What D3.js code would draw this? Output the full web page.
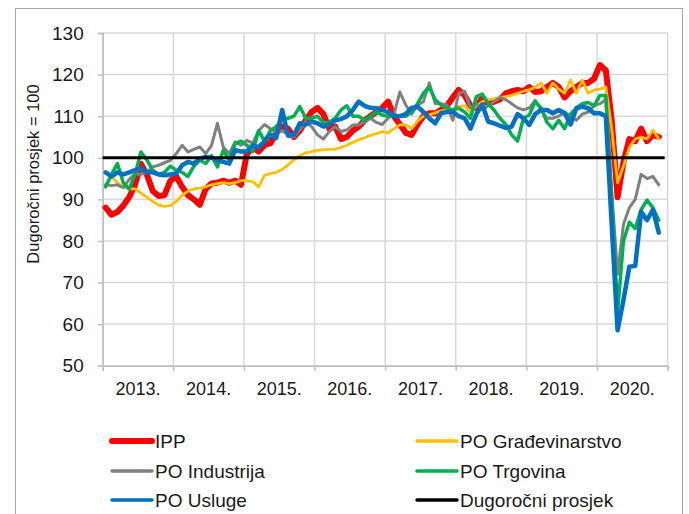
<!DOCTYPE html>
<html><head><meta charset="utf-8">
<script src="https://cdn.jsdelivr.net/npm/d3@7/dist/d3.min.js"></script>
<style>
body{margin:0;background:#fff}
svg{display:block}
text{font-family:"Liberation Sans",Arial,sans-serif;fill:#1a1a1a}
</style>
</head><body>
<svg id="chart" width="689" height="514"></svg>
<script>
// ---- data ----
const years = ["2013.","2014.","2015.","2016.","2017.","2018.","2019.","2020."];
const yTicks = [50,60,70,80,90,100,110,120,130];
const seriesNames = ["IPP","PO Građevinarstvo","PO Industrija","PO Trgovina","PO Usluge","Dugoročni prosjek"];
const longRunAverage = 100;

const ipp = [88,86.3,87,88.5,90.5,93.5,98.5,96,92,90.8,91,94.5,
  95.5,93,91,90,88.7,92.5,93.8,94,94.5,94,94.5,93.5,
  101,102.5,101.5,103,103.5,106,107.5,107,105,106.5,109,111,
  112,110.5,107,107.5,104.5,105,106.5,107.5,109,110,111,112,
  113.5,110,108,106,105.5,108,110,110.7,110.7,111.5,112.5,114.5,
  116.3,115,112.5,112,114.5,113,113.5,114,115.5,116,116.3,116,
  117,115.8,116,117,118,117,114.5,116,117,118,118,119,
  122.3,121,109,90.5,99,104.5,104,107,104,105.5,105];
const gradevinarstvo = [93.5,95.5,94,93,92.5,92.5,91.5,90.5,89.5,88.6,88.3,88.5,
  89.5,91,92,92.5,92.7,93,93.5,93.8,94,93.8,94,94.5,
  94.5,94.2,93,95.8,96.2,96.5,97.2,98.3,99.5,100.5,101.2,101.5,
  101.8,101.9,102,102.1,102.5,103,103.7,104.3,104.8,105.4,105.8,106.3,
  106,107,107.9,107.9,107,108.8,110,110.3,110.8,111.3,111.5,111.7,
  112.3,112.5,111,112.5,113.5,113.9,114.2,114.5,114.7,115,115.5,116,
  116.3,117,118,115.5,118,116.5,115.5,118.7,115.5,118.7,115.5,116.3,
  116.5,117,107,94,98,102.5,104.5,105,104.5,106.7,104.5];
const industrija = [93.5,93.3,93.5,92.8,94.8,96.2,96,96.5,97.8,98.2,98.8,99.4,
  101,103,101.4,102,102.6,101,103,108.3,102.5,101,103.8,103,
  104.2,103.5,106.5,108,107,106,106.5,105.5,105,106.7,108.7,107.5,
  105.5,104.5,106.3,107.5,106.3,106.7,107.9,107.9,108.7,109.5,108.5,108,
  109.5,110.5,115.8,112.7,110.5,112.7,113.5,118,113,113,112.7,109,
  115.5,116,112,113,111.5,112.5,113.5,114.5,114,113,112,111.5,
  112,113.8,111.5,109.5,109.5,110,111,110,109,110.5,111,112.5,
  113,114,92,72,84,88,90,96,95,95.5,93.5];
const trgovina = [93,96,98.6,94,92.5,96,101.4,99.5,97,96,96.5,98,
  97,96.5,95.5,98,99.4,98.6,100.5,97.8,101.8,99.4,103.4,104,
  103,101.5,106.5,104,106.5,107.5,109,109.5,110,112.3,109.5,109.5,
  110,108.5,108.5,109.5,111.5,112.5,110,110,109,110,111,110.3,
  110,110.3,110,110,111,113,115.5,117,114,112.7,112,111.5,
  111.9,111,109.5,114.7,115.3,113,111.5,109.5,108,105.5,104,109.5,
  110.3,113.5,112,108.5,107,109,107,110.5,112,113,113.3,112.5,
  115,115,90,63,80,84.5,83,87.5,89.8,88,85];
const usluge = [96.5,95.5,96.5,96,96.5,97,97.5,96.5,96.5,96,95.8,96,
  96.2,98.2,99,98.6,99.8,100.2,100,99.4,99,98.6,101.8,101.5,
  101.5,103,102.5,104,105.5,104.8,111.5,105.3,105.5,108.3,108,108.7,
  108.3,107.5,108,109,109.3,110,111.5,113.5,112.5,112,111.9,111.5,
  111,110,110,110.5,112,112.3,111,109.5,108.3,110.7,111,111,
  110,109.5,107,110.5,112.8,108.7,108.3,107.7,107.2,107.5,110.5,109.5,
  107.9,110.5,111.5,111.5,110.7,111.5,110.7,108,111.9,112.3,111.9,110.7,
  110.7,110,84,58.5,65.8,73.8,74,87,85,87.5,82];

const seriesData = [ipp, gradevinarstvo, industrija, trgovina, usluge];
const colors = ["#ff0000","#ffc000","#808080","#00b050","#0070c0","#000000"];
const widths = [6,2.8,3,3.5,4.5,3];

// ---- layout ----
const svg = d3.select("#chart");
const L = 102.7, R = 667.6, T = 33, B = 365.7;
const nCat = years.length * 12;
const FONT = '"Liberation Sans",Arial,sans-serif';

const x = d3.scaleBand().domain(d3.range(nCat)).range([L, R]).paddingInner(0).paddingOuter(0);
const xc = i => x(i) + x.bandwidth() / 2;
const xYear = d3.scaleBand().domain(years).range([L, R]);
const xBound = d3.scaleLinear().domain([0, years.length]).range([L, R]);
const y = d3.scaleLinear().domain([50, 130]).range([B, T]);

// frame
svg.append("rect").attr("x", 15.5).attr("y", 8.5).attr("width", 667).attr("height", 530)
  .attr("fill", "none").attr("stroke", "#a6a6a6").attr("stroke-width", 1);

// gridlines
const grid = svg.append("g").attr("stroke", "#d9d9d9").attr("stroke-width", 1.5);
grid.selectAll("line.h").data(yTicks).join("line").attr("class","h")
  .attr("x1", L).attr("x2", R).attr("y1", d => y(d)).attr("y2", d => y(d));
grid.selectAll("line.v").data(d3.range(years.length + 1)).join("line").attr("class","v")
  .attr("x1", d => xBound(d)).attr("x2", d => xBound(d)).attr("y1", T).attr("y2", B);

// y axis
const yAxis = svg.append("g").attr("transform", `translate(${L},0)`)
  .call(d3.axisLeft(y).tickValues(yTicks).tickSize(5).tickPadding(14));
yAxis.select(".domain").attr("stroke", "#bfbfbf").attr("stroke-width", 1.5);
yAxis.selectAll(".tick line").attr("stroke", "#bfbfbf").attr("stroke-width", 1.5);
yAxis.selectAll(".tick text").attr("font-size", 19).attr("fill", "#1a1a1a")
  .style("font-family", FONT);

// x axis: boundary ticks
const xAxisTicks = svg.append("g").attr("transform", `translate(0,${B})`)
  .call(d3.axisBottom(xBound).tickValues(d3.range(years.length + 1)).tickSize(5).tickFormat(""));
xAxisTicks.select(".domain").attr("stroke", "#bfbfbf").attr("stroke-width", 1.5);
xAxisTicks.selectAll(".tick line").attr("stroke", "#bfbfbf").attr("stroke-width", 1.5);

// x axis: year labels
const xAxisLabels = svg.append("g").attr("transform", `translate(0,${B})`)
  .call(d3.axisBottom(xYear).tickSize(0).tickPadding(17));
xAxisLabels.select(".domain").remove();
xAxisLabels.selectAll(".tick text").attr("font-size", 18).attr("fill", "#1a1a1a")
  .style("font-family", FONT);

// y title
svg.append("text").attr("transform", "translate(39,174) rotate(-90)")
  .attr("text-anchor", "middle").attr("font-size", 16.5).text("Dugoročni prosjek = 100");

// lines
const line = d3.line().x((d, i) => xc(i)).y(d => y(d));
const plot = svg.append("g");
seriesData.forEach((s, k) => {
  plot.append("path").datum(s).attr("d", line).attr("fill", "none")
    .attr("stroke", colors[k]).attr("stroke-width", widths[k])
    .attr("stroke-linejoin", "round").attr("stroke-linecap", "round");
});
// long-run average across all categories
const avg = d3.range(nCat).map(() => longRunAverage);
plot.append("path").datum(avg)
  .attr("d", d3.line().x((d, i) => i === 0 ? L : xc(i)).y(d => y(d)))
  .attr("fill", "none").attr("stroke", colors[5]).attr("stroke-width", widths[5]);

// legend
const legX = [112, 417], legY = [441, 471, 500];
const leg = svg.append("g");
seriesNames.forEach((n, k) => {
  const col = k % 2, row = Math.floor(k / 2);
  const g = leg.append("g").attr("transform", `translate(${legX[col]},${legY[row]})`);
  g.append("line").attr("x1", 0).attr("x2", 40).attr("y1", 0).attr("y2", 0)
    .attr("stroke", colors[k]).attr("stroke-width", k === 0 ? 6 : 3.5).attr("stroke-linecap", "round");
  g.append("text").attr("x", 43).attr("y", 7).attr("font-size", 19).text(n);
});
</script>
</body></html>
